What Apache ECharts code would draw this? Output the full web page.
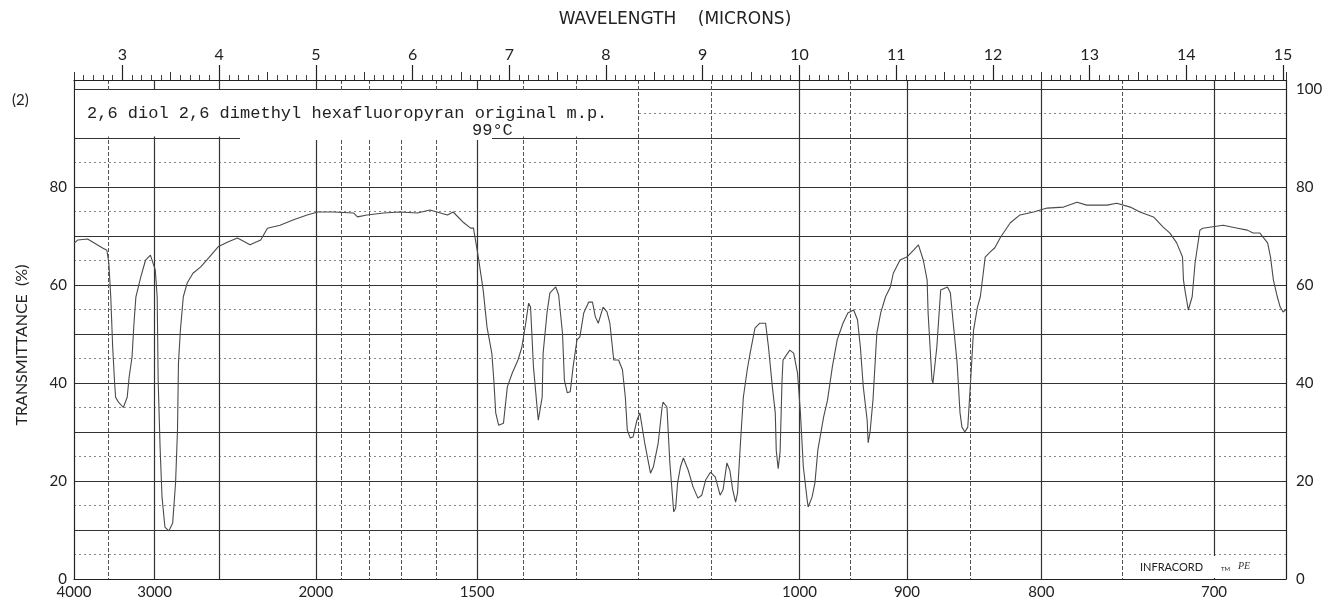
<!DOCTYPE html>
<html>
<head>
<meta charset="utf-8">
<title>IR spectrum</title>
<script src="https://cdn.jsdelivr.net/npm/echarts@6/dist/echarts.min.js"></script>
<style>
  html, body { margin: 0; padding: 0; background: #fff; }
  #chart { width: 1324px; height: 605px; }
</style>
</head>
<body>
<div id="chart"></div>
<script>
// spectrum: wavelength (microns) / transmittance (%)
var wavelength = [
  2.50, 2.54, 2.64, 2.74, 2.80, 2.84, 2.86, 2.88, 2.90, 2.92, 2.93, 2.96, 3.01, 3.05, 3.07, 3.10,
  3.12, 3.14, 3.19, 3.24, 3.29, 3.34, 3.36, 3.37, 3.39, 3.41, 3.44, 3.48, 3.52, 3.55, 3.57, 3.58,
  3.60, 3.63, 3.67, 3.73, 3.81, 3.89, 3.99, 4.09, 4.19, 4.32, 4.43, 4.50, 4.63, 4.77, 4.91, 5.02,
  5.18, 5.39, 5.43, 5.53, 5.70, 5.87, 6.05, 6.18, 6.36, 6.42, 6.53, 6.60, 6.63, 6.68, 6.73, 6.77,
  6.82, 6.84, 6.86, 6.89, 6.94, 6.98, 7.03, 7.09, 7.13, 7.17, 7.20, 7.22, 7.25, 7.29, 7.30, 7.34,
  7.35, 7.39, 7.42, 7.48, 7.51, 7.55, 7.57, 7.60, 7.63, 7.66, 7.70, 7.73, 7.77, 7.82, 7.86, 7.89,
  7.92, 7.97, 8.01, 8.04, 8.08, 8.13, 8.17, 8.20, 8.22, 8.25, 8.28, 8.32, 8.35, 8.40, 8.46, 8.49,
  8.54, 8.58, 8.59, 8.63, 8.66, 8.70, 8.72, 8.74, 8.77, 8.80, 8.85, 8.90, 8.95, 8.99, 9.03, 9.08,
  9.13, 9.18, 9.21, 9.25, 9.28, 9.31, 9.34, 9.36, 9.39, 9.42, 9.46, 9.49, 9.54, 9.59, 9.65, 9.68,
  9.72, 9.75, 9.76, 9.78, 9.80, 9.82, 9.83, 9.90, 9.94, 9.98, 10.01, 10.04, 10.08, 10.09, 10.13, 10.16,
  10.19, 10.25, 10.29, 10.34, 10.39, 10.45, 10.50, 10.56, 10.60, 10.63, 10.66, 10.70, 10.71, 10.73, 10.76, 10.80,
  10.84, 10.89, 10.94, 10.97, 11.04, 11.11, 11.18, 11.23, 11.28, 11.32, 11.33, 11.37, 11.38, 11.42, 11.46, 11.53,
  11.56, 11.59, 11.63, 11.66, 11.68, 11.71, 11.74, 11.77, 11.80, 11.84, 11.87, 11.90, 11.92, 11.97, 12.02, 12.08,
  12.18, 12.28, 12.42, 12.56, 12.73, 12.87, 12.97, 13.18, 13.28, 13.42, 13.52, 13.66, 13.76, 13.83, 13.90, 13.96,
  13.97, 13.99, 14.02, 14.06, 14.09, 14.14, 14.17, 14.38, 14.53, 14.63, 14.69, 14.76, 14.84, 14.87, 14.90, 14.94,
  14.97, 15.00, 15.03
];
var transmittance = [
  68.5, 69.2, 69.4, 68.2, 67.5, 67.1, 64.5, 57.6, 47.3, 40.0, 37.1, 36.1, 35.0, 37.1, 41.2, 45.3,
  52.2, 57.6, 61.6, 65.1, 66.1, 63.1, 57.6, 40.6, 26.9, 16.7, 10.6, 9.8, 11.4, 19.6, 30.4, 44.1,
  50.8, 57.6, 60.4, 62.4, 63.7, 65.5, 67.8, 68.8, 69.6, 68.2, 69.2, 71.6, 72.2, 73.3, 74.3, 74.9,
  74.9, 74.7, 73.9, 74.3, 74.7, 74.9, 74.7, 75.3, 74.3, 74.9, 72.7, 71.6, 71.6, 65.7, 59.0, 51.4,
  46.0, 40.6, 33.9, 31.4, 31.8, 39.2, 42.0, 44.7, 47.3, 52.2, 56.3, 55.5, 43.3, 34.5, 32.4, 37.1,
  46.1, 54.3, 58.4, 59.6, 58.0, 50.2, 40.6, 38.0, 38.2, 43.3, 48.8, 49.4, 54.3, 56.5, 56.5, 53.5,
  52.2, 55.5, 54.5, 52.2, 44.7, 44.7, 42.7, 37.1, 30.4, 28.8, 29.0, 32.4, 33.9, 27.8, 21.6, 22.9,
  27.8, 35.1, 36.1, 35.1, 23.7, 13.7, 14.5, 19.6, 22.9, 24.7, 22.2, 18.8, 16.5, 17.1, 20.2, 21.8,
  20.8, 17.1, 18.2, 23.7, 22.2, 18.2, 15.7, 17.6, 27.8, 37.1, 42.7, 46.1, 51.2, 52.2, 52.2, 47.3,
  39.2, 33.9, 26.3, 22.5, 26.0, 40.6, 44.7, 46.7, 46.1, 42.0, 33.9, 22.9, 16.1, 14.7, 16.7, 19.6,
  26.3, 33.1, 36.5, 43.3, 48.8, 52.2, 54.3, 54.9, 52.9, 47.3, 39.2, 32.4, 27.8, 30.0, 36.5, 50.2,
  54.3, 57.6, 59.6, 62.4, 65.1, 65.7, 67.1, 68.2, 65.1, 61.0, 54.3, 40.6, 40.0, 47.3, 59.0, 59.6,
  58.4, 52.2, 44.1, 33.9, 31.0, 30.0, 31.0, 40.6, 50.8, 55.5, 57.6, 62.4, 65.7, 66.7, 67.6, 69.8,
  72.7, 74.3, 74.9, 75.7, 75.9, 76.9, 76.3, 76.3, 76.7, 75.9, 74.9, 73.9, 71.8, 70.6, 68.6, 65.7,
  61.0, 58.4, 54.9, 57.6, 64.5, 71.2, 71.6, 72.2, 71.6, 71.2, 70.6, 70.6, 68.6, 65.7, 61.0, 57.6,
  55.5, 54.5, 55.0
];

// axis labels / grid positions
var wavenumberLabels = [4000, 3000, 2000, 1500, 1000, 900, 800, 700];
var wavenumberMajor = [3000, 2500, 2000, 1500, 1000, 900, 800, 700];
var wavenumberMinor = [3500, 1900, 1800, 1700, 1600, 1400, 1300, 1200, 1100, 950, 850, 750];
var micronLabels = [3, 4, 5, 6, 7, 8, 9, 10, 11, 12, 13, 14, 15];
var percentLeft = [0, 20, 40, 60, 80];
var percentRight = [0, 20, 40, 60, 80, 100];
var percentMajor = [0, 10, 20, 30, 40, 50, 60, 70, 80, 90, 100];
var percentMinor = [5, 15, 25, 35, 45, 55, 65, 75, 85, 95];

function toMicron(w) { return 10000 / w; }

var myChart = echarts.init(document.getElementById('chart'));

var font = 'Lato, "DejaVu Sans", sans-serif';
var X_MIN = 2.5, X_MAX = 15.03;
var Y_MAX = 101.84; // leaves room for the ruler above the 100% line

var points = wavelength.map(function (w, k) { return [w, transmittance[k]]; });

var option = {
  backgroundColor: '#fff',
  animation: false,
  grid: { left: 74, right: 38, top: 80, bottom: 26, outerBoundsMode: 'none' },
  xAxis: [
    {
      type: 'value', position: 'bottom', min: X_MIN, max: X_MAX,
      axisLine: { show: true, onZero: false, lineStyle: { color: '#222', width: 1.2 } },
      axisTick: { show: true, length: 0, customValues: wavenumberMajor.map(toMicron) },
      axisLabel: {
        customValues: wavenumberLabels.map(toMicron),
        formatter: function (v) { return Math.round(10000 / v); },
        margin: 6, fontSize: 15, color: '#222', fontFamily: font
      },
      splitLine: { show: true, lineStyle: { color: '#333', width: 1.2 } }
    },
    {
      type: 'value', position: 'bottom', min: X_MIN, max: X_MAX,
      axisLine: { show: false, onZero: false },
      axisTick: { show: true, length: 0, customValues: wavenumberMinor.map(toMicron) },
      axisLabel: { show: false },
      splitLine: { show: true, lineStyle: { color: '#555', width: 1, type: [4, 2] } }
    },
    // micron ruler: half-micron ticks with tenth minor ticks
    {
      type: 'value', position: 'top', min: X_MIN, max: X_MAX, interval: 0.5,
      axisLine: { show: true, onZero: false, lineStyle: { color: '#222', width: 1.2 } },
      axisTick: { show: true, length: 8, lineStyle: { color: '#333' } },
      minorTick: { show: true, splitNumber: 5, length: 5, lineStyle: { color: '#444' } },
      axisLabel: { show: false },
      splitLine: { show: false }
    },
    {
      type: 'value', position: 'top', min: X_MIN, max: X_MAX,
      axisLine: { show: false, onZero: false },
      axisTick: { show: true, length: 15, customValues: micronLabels, lineStyle: { color: '#222', width: 1.2 } },
      axisLabel: { customValues: micronLabels, margin: 17, fontSize: 16, color: '#222', fontFamily: font },
      splitLine: { show: false }
    }
  ],
  yAxis: [
    {
      type: 'value', position: 'left', min: 0, max: Y_MAX,
      axisLine: { show: true, onZero: false, lineStyle: { color: '#222', width: 1.2 } },
      axisTick: { show: true, length: 0, customValues: percentMajor },
      axisLabel: { customValues: percentLeft, margin: 7, fontSize: 15, color: '#222', fontFamily: font },
      splitLine: { show: true, lineStyle: { color: '#333', width: 1.2 } }
    },
    {
      type: 'value', position: 'left', min: 0, max: Y_MAX,
      axisLine: { show: false, onZero: false },
      axisTick: { show: true, length: 0, customValues: percentMinor },
      axisLabel: { show: false },
      splitLine: { show: true, lineStyle: { color: '#888', width: 1, type: [2, 3] } }
    },
    {
      type: 'value', position: 'right', min: 0, max: Y_MAX,
      axisLine: { show: true, onZero: false, lineStyle: { color: '#222', width: 1.2 } },
      axisTick: { show: true, length: 0, customValues: percentRight },
      axisLabel: { customValues: percentRight, margin: 10, fontSize: 15, color: '#222', fontFamily: font },
      splitLine: { show: false }
    }
  ],
  series: [
    {
      type: 'line',
      xAxisIndex: 0,
      yAxisIndex: 0,
      data: points,
      showSymbol: false,
      lineStyle: { color: '#4a4a4a', width: 1.1 },
      z: 5
    }
  ],
  graphic: [
    // label box over the grid
    { type: 'rect', z: 100, shape: { x: 75, y: 90, width: 563, height: 46.5 }, style: { fill: '#fff' } },
    { type: 'rect', z: 100, shape: { x: 240, y: 136, width: 252, height: 4 }, style: { fill: '#fff' } },
    {
      type: 'text', z: 101, x: 87, y: 113,
      style: { text: '2,6 diol 2,6 dimethyl hexafluoropyran original m.p.', font: '17px "Liberation Mono", monospace', fill: '#222', verticalAlign: 'middle' }
    },
    {
      type: 'text', z: 101, x: 472, y: 130,
      style: { text: '99°C', font: '17px "Liberation Mono", monospace', fill: '#222', verticalAlign: 'middle' }
    },
    {
      type: 'text', z: 101, x: 12, y: 100,
      style: { text: '(2)', font: '15px ' + font, fill: '#222', verticalAlign: 'middle' }
    },
    {
      type: 'text', z: 101, x: 675, y: 20,
      style: { text: 'WAVELENGTH    (MICRONS)', font: '17px "DejaVu Sans", sans-serif', fill: '#222', align: 'center', verticalAlign: 'middle' }
    },
    {
      type: 'text', z: 101, x: 22, y: 345, rotation: Math.PI / 2,
      style: { text: 'TRANSMITTANCE  (%)', font: '16px ' + font, fill: '#222', align: 'center', verticalAlign: 'middle' }
    },
    // instrument mark
    { type: 'rect', z: 100, shape: { x: 1130, y: 556, width: 154, height: 22 }, style: { fill: '#fff' } },
    {
      type: 'text', z: 101, x: 1140, y: 567,
      style: { text: 'INFRACORD', font: '11px ' + font, fill: '#222', verticalAlign: 'middle' }
    },
    {
      type: 'text', z: 101, x: 1221, y: 569,
      style: { text: 'TM', font: '6px ' + font, fill: '#222', verticalAlign: 'middle' }
    },
    {
      type: 'text', z: 101, x: 1238, y: 566,
      style: { text: 'PE', font: 'italic 10px "Liberation Serif", serif', fill: '#333', verticalAlign: 'middle' }
    }
  ]
};

myChart.setOption(option);
</script>
</body>
</html>
